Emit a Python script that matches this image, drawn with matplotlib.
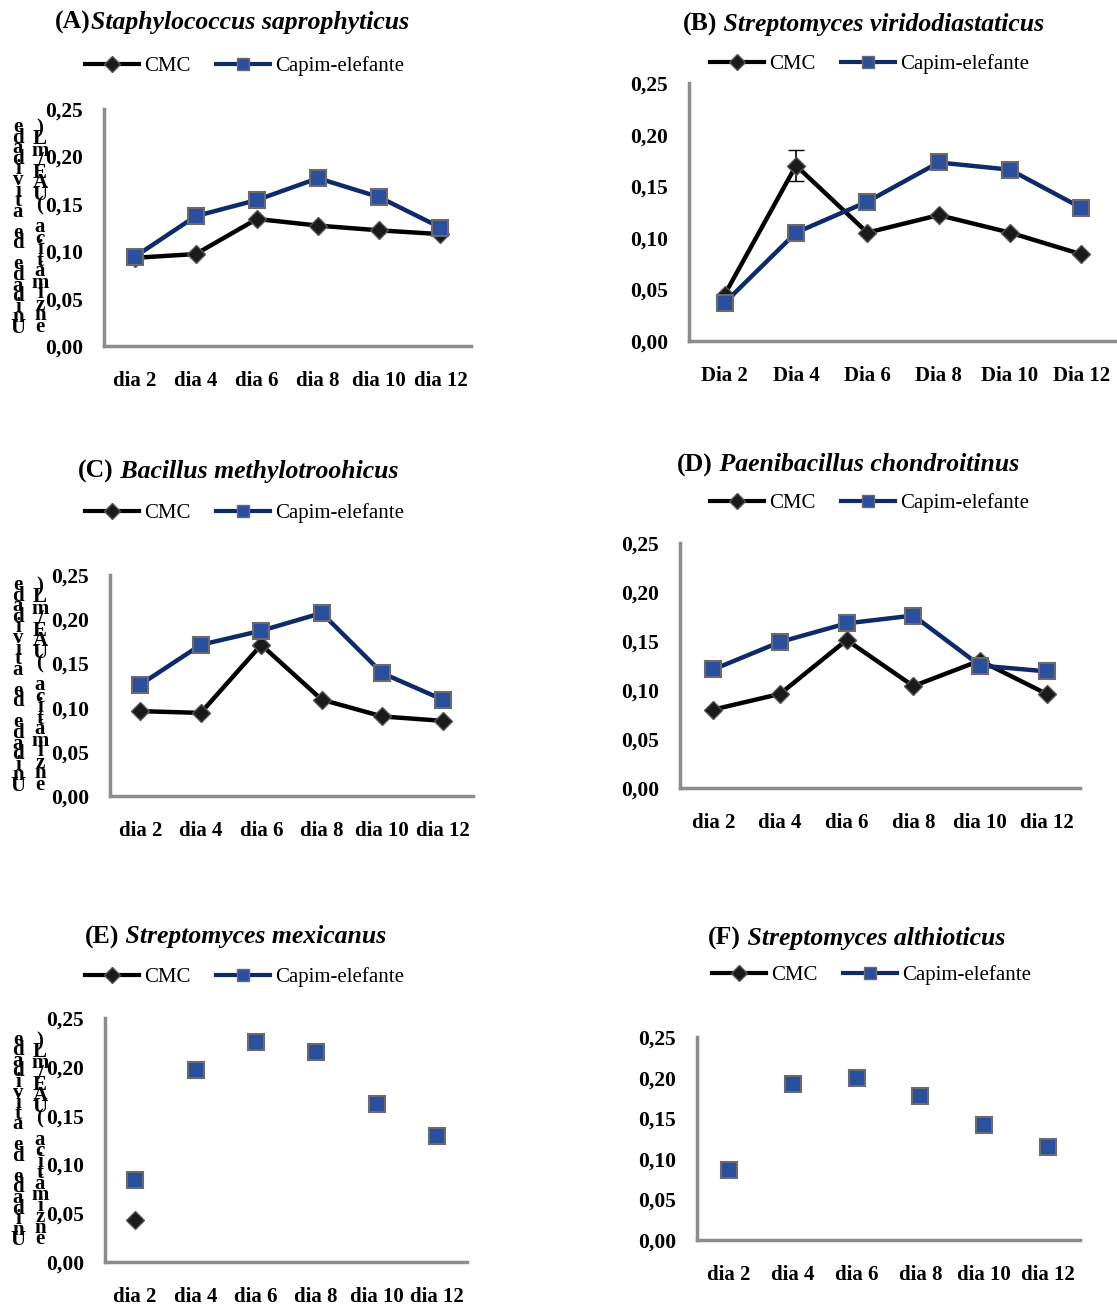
import numpy as np
import matplotlib
matplotlib.use("Agg")
import matplotlib.pyplot as plt
from matplotlib.lines import Line2D

plt.rcParams['font.family'] = ['Liberation Serif', 'DejaVu Serif']

# x categories
days_lower = ['dia 2', 'dia 4', 'dia 6', 'dia 8', 'dia 10', 'dia 12']
days_upper = ['Dia 2', 'Dia 4', 'Dia 6', 'Dia 8', 'Dia 10', 'Dia 12']

# (A) Staphylococcus saprophyticus
cmc_a = [0.093, 0.097, 0.134, 0.127, 0.122, 0.118]
capim_a = [0.094, 0.137, 0.154, 0.177, 0.157, 0.125]
# (B) Streptomyces viridodiastaticus
cmc_b = [0.045, 0.170, 0.105, 0.122, 0.105, 0.084]
cmc_b_err = [0.0, 0.015, 0.0, 0.0, 0.0, 0.0]
capim_b = [0.037, 0.105, 0.135, 0.173, 0.166, 0.129]
# (C) Bacillus methylotroohicus
cmc_c = [0.096, 0.094, 0.171, 0.109, 0.090, 0.085]
capim_c = [0.126, 0.171, 0.187, 0.207, 0.139, 0.109]
# (D) Paenibacillus chondroitinus
cmc_d = [0.080, 0.096, 0.151, 0.104, 0.130, 0.096]
capim_d = [0.121, 0.149, 0.168, 0.176, 0.125, 0.119]
# (E) Streptomyces mexicanus (no connecting lines)
cmc_e = [0.043, np.nan, np.nan, np.nan, np.nan, np.nan]
capim_e = [0.084, 0.197, 0.225, 0.215, 0.162, 0.129]
# (F) Streptomyces althioticus
cmc_f = [np.nan] * 6
capim_f = [0.086, 0.192, 0.199, 0.177, 0.142, 0.114]

ylabel_1 = 'Unidade de atividade'
ylabel_2 = 'enzimática (UAE/mL)'

W, H = 1117, 1306
fig = plt.figure(figsize=(W / 100, H / 100), dpi=100)

AXIS_GRAY = '#8c8c8c'
NAVY = '#0d2a6b'


def add_panel(box, letter, species, title_x, title_y, leg_x, leg_y,
              cmc, capim, labels, lines=True, cmc_err=None, ylab=False):
    left, right, y0, y25 = box
    ax = fig.add_axes([left / W, 1 - y0 / H, (right - left) / W, (y0 - y25) / H])
    x = np.arange(len(labels))
    ls = '-' if lines else 'none'
    ax.plot(x, cmc, color='black', lw=3.2, ls=ls, marker='D', ms=9,
            mfc='#1a1a1a', mec='#555555', mew=1, zorder=3)
    if cmc_err is not None:
        ax.errorbar(x, cmc, yerr=cmc_err, fmt='none', ecolor='black',
                    elinewidth=1.2, capsize=6, zorder=2)
    ax.plot(x, capim, color=NAVY, lw=3.2, ls=ls, marker='s', ms=12,
            mfc='#2a4f9e', mec='#6b6b6b', mew=1.5, zorder=4)
    ax.set_xlim(-0.5, len(labels) - 0.5)
    ax.set_ylim(0, 0.25)
    ax.set_yticks([0, 0.05, 0.10, 0.15, 0.20, 0.25])
    ax.set_yticklabels(['0,00', '0,05', '0,10', '0,15', '0,20', '0,25'])
    ax.set_xticks(x)
    ax.set_xticklabels(labels)
    for s in ['top', 'right']:
        ax.spines[s].set_visible(False)
    for s in ['left', 'bottom']:
        ax.spines[s].set_color(AXIS_GRAY)
        ax.spines[s].set_linewidth(2.5)
    ax.tick_params(axis='y', length=0, pad=15, labelsize=15.5)
    ax.tick_params(axis='x', length=0, pad=18, labelsize=15)
    for lab in ax.get_xticklabels() + ax.get_yticklabels():
        lab.set_fontweight('bold')
    ax.patch.set_alpha(0)

    # title: bold letter + bold italic species
    t1 = fig.text(title_x / W, 1 - title_y / H, '(%s)' % letter, fontsize=18.5,
                  fontweight='bold', ha='left', va='center')
    ax.annotate(' ' + species if letter != 'A' else species, xy=(1, 0.5),
                xycoords=t1, va='center', ha='left', fontsize=18.5,
                fontweight='bold', fontstyle='italic')

    handles = [Line2D([], [], color='black', lw=3, marker='D', ms=8,
                      mfc='#1a1a1a', mec='#555555'),
               Line2D([], [], color=NAVY, lw=3, marker='s', ms=9,
                      mfc='#2a4f9e', mec='#6b6b6b')]
    fig.legend(handles, ['CMC', 'Capim-elefante'], loc='center left',
               bbox_to_anchor=(leg_x / W, 1 - leg_y / H), ncol=2,
               frameon=False, fontsize=15, handlelength=2.6,
               handletextpad=0.25, columnspacing=1.2, borderpad=0,
               borderaxespad=0, numpoints=1)

    if ylab:
        # the y label is stacked letter by letter, as in the source figure
        yc = 1 - (y0 + y25) / 2 / H
        fig.text(18 / W, yc, '\n'.join(reversed(ylabel_1)), ha='center',
                 va='center', fontsize=15, linespacing=0.37, fontweight='bold')
        fig.text(40 / W, yc, '\n'.join(reversed(ylabel_2)), ha='center',
                 va='center', fontsize=15, linespacing=0.40, fontweight='bold')
    return ax


add_panel((104, 471, 346, 109), 'A', 'Staphylococcus saprophyticus', 55, 22, 85, 66,
          cmc_a, capim_a, days_lower, ylab=True)
add_panel((689, 1117, 341, 83), 'B', 'Streptomyces viridodiastaticus', 683, 24, 710, 64,
          cmc_b, capim_b, days_upper, cmc_err=cmc_b_err)
add_panel((110, 473, 796, 575), 'C', 'Bacillus methylotroohicus', 78, 471, 85, 513,
          cmc_c, capim_c, days_lower, ylab=True)
add_panel((680, 1080, 788, 543), 'D', 'Paenibacillus chondroitinus', 677, 465, 710, 503,
          cmc_d, capim_d, days_lower)
add_panel((105, 467, 1262, 1018), 'E', 'Streptomyces mexicanus', 85, 937, 85, 977,
          cmc_e, capim_e, days_lower, lines=False, ylab=True)
add_panel((697, 1080, 1240, 1037), 'F', 'Streptomyces althioticus', 708, 938, 712, 975,
          cmc_f, capim_f, days_lower, lines=False)

fig.savefig('out.png', dpi=100)
